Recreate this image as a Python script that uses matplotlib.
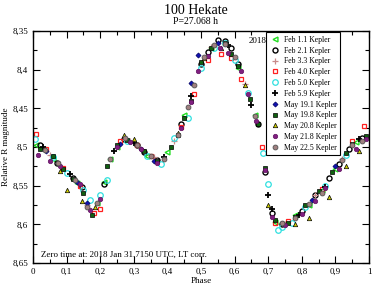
import matplotlib
matplotlib.use("Agg")
import matplotlib.pyplot as plt
from matplotlib.ticker import MultipleLocator, FuncFormatter

plt.rcParams['font.family'] = ['Liberation Serif', 'DejaVu Serif']

# sessions: phase / relative R magnitude
feb01_ph = [0.01, 0.03, 0.06, 0.13, 0.19, 0.21, 0.23, 0.25, 0.34, 0.40, 0.45, 0.53, 0.61, 0.66, 0.72, 0.78, 0.82, 0.86, 0.90, 0.96]
feb01_mag = [8.497, 8.502, 8.515, 8.546, 8.572, 8.545, 8.515, 8.500, 8.512, 8.507, 8.458, 8.372, 8.398, 8.458, 8.597, 8.588, 8.575, 8.556, 8.528, 8.494]

feb02_ph = [0.02, 0.07, 0.12, 0.145, 0.21, 0.27, 0.31, 0.33, 0.37, 0.44, 0.50, 0.52, 0.55, 0.57, 0.59, 0.61, 0.67, 0.69, 0.71, 0.74, 0.80, 0.84, 0.88, 0.91, 0.94, 0.98]
feb02_mag = [8.498, 8.520, 8.540, 8.552, 8.548, 8.490, 8.498, 8.506, 8.517, 8.470, 8.393, 8.377, 8.362, 8.363, 8.372, 8.392, 8.470, 8.532, 8.585, 8.600, 8.583, 8.562, 8.540, 8.522, 8.502, 8.488]

feb03_ph = [0.05, 0.16, 0.29, 0.36, 0.42, 0.53, 0.63, 0.75, 0.84, 0.92]
feb03_mag = [8.510, 8.575, 8.492, 8.513, 8.492, 8.370, 8.418, 8.600, 8.562, 8.515]

feb04_ph = [0.01, 0.04, 0.09, 0.14, 0.18, 0.20, 0.26, 0.31, 0.35, 0.44, 0.48, 0.52, 0.56, 0.59, 0.62, 0.68, 0.72, 0.76, 0.86, 0.95, 0.985]
feb04_mag = [8.483, 8.503, 8.527, 8.550, 8.585, 8.580, 8.492, 8.497, 8.512, 8.474, 8.432, 8.388, 8.380, 8.385, 8.412, 8.500, 8.598, 8.596, 8.554, 8.492, 8.473]

feb05_ph = [0.005, 0.06, 0.10, 0.15, 0.17, 0.20, 0.22, 0.28, 0.34, 0.38, 0.42, 0.46, 0.50, 0.54, 0.57, 0.60, 0.64, 0.685, 0.70, 0.73, 0.74, 0.77, 0.81, 0.87, 0.93]
feb05_mag = [8.490, 8.513, 8.533, 8.555, 8.569, 8.562, 8.543, 8.492, 8.512, 8.522, 8.488, 8.462, 8.398, 8.372, 8.366, 8.388, 8.430, 8.508, 8.548, 8.607, 8.603, 8.598, 8.578, 8.550, 8.510]

feb06_ph = [0.03, 0.11, 0.24, 0.30, 0.39, 0.47, 0.58, 0.65, 0.70, 0.71, 0.79, 0.87, 0.97]
feb06_mag = [8.500, 8.535, 8.505, 8.495, 8.513, 8.434, 8.368, 8.445, 8.562, 8.580, 8.588, 8.552, 8.490]

may19a_ph = [0.04, 0.13, 0.16, 0.26, 0.32, 0.36, 0.47, 0.49, 0.55, 0.83, 0.90]
may19a_mag = [8.505, 8.545, 8.573, 8.496, 8.503, 8.518, 8.417, 8.381, 8.366, 8.568, 8.525]

may19b_ph = [0.02, 0.06, 0.09, 0.12, 0.15, 0.175, 0.22, 0.25, 0.28, 0.33, 0.37, 0.41, 0.43, 0.45, 0.47, 0.50, 0.53, 0.57, 0.59, 0.61, 0.645, 0.67, 0.69, 0.72, 0.76, 0.78, 0.81, 0.85, 0.89, 0.93, 0.95, 0.99]
may19b_mag = [8.502, 8.512, 8.528, 8.541, 8.560, 8.588, 8.525, 8.497, 8.491, 8.505, 8.518, 8.500, 8.485, 8.462, 8.440, 8.390, 8.372, 8.366, 8.380, 8.395, 8.438, 8.470, 8.527, 8.594, 8.598, 8.590, 8.575, 8.557, 8.532, 8.508, 8.496, 8.486]

may20_ph = [0.08, 0.10, 0.145, 0.185, 0.27, 0.30, 0.43, 0.51, 0.56, 0.63, 0.70, 0.78, 0.82, 0.88, 0.93, 0.97]
may20_mag = [8.531, 8.556, 8.570, 8.578, 8.485, 8.490, 8.482, 8.385, 8.372, 8.420, 8.575, 8.600, 8.592, 8.565, 8.525, 8.505]

may21_ph = [0.015, 0.05, 0.08, 0.14, 0.17, 0.20, 0.25, 0.29, 0.32, 0.37, 0.44, 0.47, 0.49, 0.52, 0.555, 0.58, 0.62, 0.64, 0.665, 0.69, 0.71, 0.75, 0.80, 0.84, 0.87, 0.91, 0.96, 0.99]
may21_mag = [8.510, 8.518, 8.525, 8.548, 8.582, 8.567, 8.500, 8.493, 8.502, 8.520, 8.476, 8.442, 8.402, 8.382, 8.372, 8.378, 8.402, 8.432, 8.466, 8.530, 8.590, 8.601, 8.587, 8.570, 8.553, 8.528, 8.503, 8.490]

may22_ph = [0.035, 0.075, 0.125, 0.16, 0.19, 0.23, 0.275, 0.31, 0.35, 0.39, 0.43, 0.46, 0.48, 0.51, 0.54, 0.57, 0.60, 0.66, 0.74, 0.78, 0.82, 0.86, 0.92, 0.95, 0.98]
may22_mag = [8.504, 8.521, 8.543, 8.578, 8.572, 8.515, 8.488, 8.497, 8.512, 8.515, 8.484, 8.448, 8.420, 8.383, 8.368, 8.367, 8.384, 8.460, 8.598, 8.592, 8.574, 8.560, 8.517, 8.498, 8.492]

labels = ["Feb 1.1 Kepler", "Feb 2.1 Kepler", "Feb 3.3 Kepler", "Feb 4.0 Kepler",
          "Feb 5.0 Kepler", "Feb 5.9 Kepler", "May 19.1 Kepler", "May 19.8 Kepler",
          "May 20.8 Kepler", "May 21.8 Kepler", "May 22.5 Kepler"]

sessions = [(feb01_ph, feb01_mag), (feb02_ph, feb02_mag), (feb03_ph, feb03_mag),
            (feb04_ph, feb04_mag), (feb05_ph, feb05_mag), (feb06_ph, feb06_mag),
            (may19a_ph, may19a_mag), (may19b_ph, may19b_mag), (may20_ph, may20_mag),
            (may21_ph, may21_mag), (may22_ph, may22_mag)]

styles = [
    dict(marker='<', mfc='none', mec='#22dd22', ms=3.5, mew=1.0),
    dict(marker='o', mfc='none', mec='black', ms=3.6, mew=1.0),
    dict(marker='+', mfc='none', mec='#c88a8a', ms=4.5, mew=0.9),
    dict(marker='s', mfc='none', mec='#ff2020', ms=3.5, mew=0.9),
    dict(marker='o', mfc='none', mec='#30e0e0', ms=4, mew=0.9),
    dict(marker='+', mfc='none', mec='black', ms=4.5, mew=1.3),
    dict(marker='D', mfc='#1010b0', mec='#000060', ms=2.6, mew=0.5),
    dict(marker='s', mfc='#106010', mec='black', ms=3.1, mew=0.5),
    dict(marker='^', mfc='#d0d000', mec='black', ms=3.2, mew=0.5),
    dict(marker='o', mfc='#802080', mec='#601060', ms=3.2, mew=0.5),
    dict(marker='o', mfc='#a08080', mec='#505050', ms=3.5, mew=0.6),
]

fig = plt.figure(figsize=(3.73, 2.91), dpi=100)
ax = fig.add_axes([0.0885, 0.0962, 0.901, 0.797])

for (ph, mag), lab, st in zip(sessions, labels, styles):
    ax.plot(ph, mag, linestyle='none', label=lab, **st)

ax.set_xlim(0, 1)
ax.set_ylim(8.65, 8.35)
ax.xaxis.set_major_locator(MultipleLocator(0.1))
ax.xaxis.set_minor_locator(MultipleLocator(0.05))
ax.yaxis.set_major_locator(MultipleLocator(0.05))
ax.yaxis.set_minor_locator(MultipleLocator(0.025))
comma = FuncFormatter(lambda v, p: ('%g' % round(v, 3)).replace('.', ','))
ax.xaxis.set_major_formatter(comma)
ax.yaxis.set_major_formatter(comma)
ax.tick_params(which='both', direction='in', top=True, right=True, labelsize=6.5, width=0.8)
ax.tick_params(which='major', length=5)
ax.tick_params(which='minor', length=3)
for s in ax.spines.values():
    s.set_linewidth(1.0)

ax.set_xlabel("Phase", fontsize=6.5, labelpad=1)
ax.set_ylabel("Relative R magnitude", fontsize=6.5, labelpad=2)
fig.text(0.525, 0.965, "100 Hekate", ha='center', va='center', fontsize=10)
fig.text(0.525, 0.925, "P=27.068 h", ha='center', va='center', fontsize=7)
ax.text(0.667, 0.957, "2018", transform=ax.transAxes, ha='center', va='center', fontsize=6.5)
ax.text(0.024, 0.034, "Zero time at: 2018 Jan 31.7150 UTC, LT corr.", transform=ax.transAxes,
        ha='left', va='center', fontsize=6.5)

leg = ax.legend(loc='upper right', bbox_to_anchor=(0.914, 0.995), borderaxespad=0,
                fontsize=5.6, fancybox=False, framealpha=1, edgecolor='black',
                handletextpad=0.6, labelspacing=0.36, borderpad=0.45, handlelength=1.2)
leg.get_frame().set_linewidth(0.8)

fig.savefig("out.png", dpi=100)
